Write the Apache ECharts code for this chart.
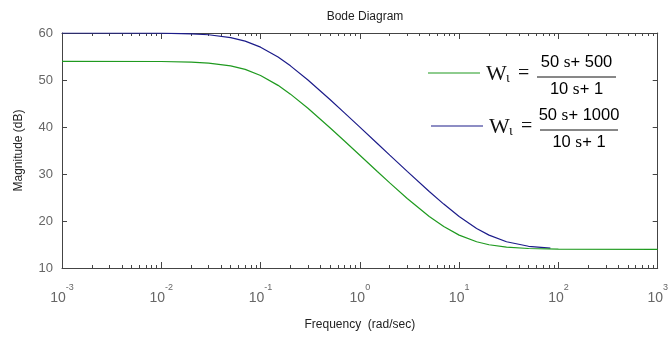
<!DOCTYPE html>
<html>
<head>
<meta charset="utf-8">
<script src="https://cdn.jsdelivr.net/npm/echarts@6/dist/echarts.min.js"></script>
<style>
  html, body { margin: 0; padding: 0; background: #fff; }
  #chart { width: 671px; height: 339px; }
</style>
</head>
<body>
<div id="chart"></div>
<script>
// frequencies (rad/sec) and magnitudes (dB)
const freqGreen = [0.001, 0.01, 0.02, 0.03, 0.05, 0.07, 0.1, 0.15, 0.2, 0.3, 0.5, 0.7, 1, 1.5, 2, 3, 5, 7, 10, 15, 20, 30, 50, 100, 1000];
const magGreen = [53.98, 53.94, 53.81, 53.6, 53.0, 52.25, 50.97, 48.86, 46.99, 43.98, 39.84, 37.01, 33.98, 30.54, 28.12, 24.8, 20.97, 18.81, 16.99, 15.58, 14.95, 14.44, 14.15, 14.02, 13.98];
const freqBlue = [0.001, 0.01, 0.02, 0.03, 0.05, 0.07, 0.1, 0.15, 0.2, 0.3, 0.5, 0.7, 1, 1.5, 2, 3, 5, 7, 10, 15, 20, 30, 50, 83];
const magBlue = [60.0, 59.96, 59.83, 59.63, 59.03, 58.27, 56.99, 54.88, 53.01, 50.0, 45.85, 43.01, 39.97, 36.48, 34.01, 30.55, 26.28, 23.6, 20.97, 18.42, 16.99, 15.58, 14.62, 14.24];
const decadeExps = [-3, -2, -1, 0, 1, 2, 3];
const yTicks = [10, 20, 30, 40, 50, 60];

const GREEN = '#1f9a1f';
const BLUE = '#1c1c8a';
const AXIS = '#444';

// minor log ticks (2..9 within each decade), in log10 units for a helper axis
let minorTicks = [];
for (let d = decadeExps[0]; d < decadeExps[decadeExps.length - 1]; d++) {
    for (let k = 2; k <= 9; k++) minorTicks.push(d + Math.log10(k));
}

function pairs(xs, ys) {
    let out = [];
    for (let i = 0; i < xs.length; i++) out.push([xs[i], ys[i]]);
    return out;
}

const myChart = echarts.init(document.getElementById('chart'));

const minorAxis = (pos) => ({
    type: 'value', position: pos, min: -3, max: 3,
    axisLine: { show: false },
    axisLabel: { show: false },
    splitLine: { show: false },
    axisTick: { show: true, inside: true, length: 3, customValues: minorTicks, lineStyle: { color: AXIS } }
});

const fracStyle = {
    n: { fontFamily: 'Liberation Sans', fontSize: 16.5, color: '#111' },
    i: { fontFamily: 'Liberation Serif', fontSize: 17.5, color: '#111' }
};

function legendEntry(y, color, num, den, fx1, fx2) {
    const cx = (fx1 + fx2) / 2;
    return [
        { type: 'line', shape: { x1: fx1 - 109, y1: y, x2: fx1 - 57, y2: y }, style: { stroke: color, lineWidth: 1.2 } },
        { type: 'text', x: fx1 - 51, y: y + 1, style: { text: 'W', font: '22px "Liberation Serif"', fill: '#111', verticalAlign: 'middle' } },
        { type: 'text', x: fx1 - 31, y: y + 5, style: { text: 'ι', font: '14px "Liberation Serif"', fill: '#111', verticalAlign: 'middle' } },
        { type: 'text', x: fx1 - 19, y: y + 1, style: { text: '=', font: '20px "Liberation Serif"', fill: '#111', verticalAlign: 'middle' } },
        { type: 'text', x: cx, y: y - 11, style: { text: num, rich: fracStyle, align: 'center', verticalAlign: 'middle' } },
        { type: 'line', shape: { x1: fx1, y1: y + 4, x2: fx2, y2: y + 4 }, style: { stroke: '#111', lineWidth: 1 } },
        { type: 'text', x: cx, y: y + 16, style: { text: den, rich: fracStyle, align: 'center', verticalAlign: 'middle' } }
    ];
}

const option = {
    animation: false,
    backgroundColor: '#fff',
    title: {
        text: 'Bode Diagram', left: 360, top: 6, textAlign: 'center',
        textStyle: { fontFamily: 'Liberation Sans', fontSize: 12, fontWeight: 'normal', color: '#222' }
    },
    grid: { left: 62, right: 8, top: 33, bottom: 71 },
    xAxis: [
        {
            type: 'log', logBase: 10, min: 0.001, max: 1000, position: 'bottom',
            name: 'Frequency  (rad/sec)', nameLocation: 'middle', nameGap: 51,
            nameTextStyle: { fontFamily: 'Liberation Sans', fontSize: 12, color: '#222' },
            axisLine: { onZero: false, lineStyle: { color: AXIS } },
            axisTick: { inside: true, length: 6, lineStyle: { color: AXIS } },
            splitLine: { show: false },
            axisLabel: {
                margin: 15,
                formatter: function (v) {
                    const e = Math.round(Math.log10(v));
                    return '{b|10}{s|' + e + '}';
                },
                rich: {
                    b: { fontFamily: 'Liberation Sans', fontSize: 14, color: '#666', padding: [8, 0, 0, 0] },
                    s: { fontFamily: 'Liberation Sans', fontSize: 9, color: '#666', verticalAlign: 'top', padding: [0, 0, 8, 0] }
                }
            }
        },
        {
            type: 'log', logBase: 10, min: 0.001, max: 1000, position: 'top',
            axisLine: { onZero: false, lineStyle: { color: AXIS } },
            axisTick: { inside: true, length: 6, lineStyle: { color: AXIS } },
            axisLabel: { show: false },
            splitLine: { show: false }
        },
        minorAxis('bottom'),
        minorAxis('top')
    ],
    yAxis: [
        {
            type: 'value', min: 10, max: 60, interval: 10, position: 'left',
            name: 'Magnitude (dB)', nameLocation: 'middle', nameGap: 37,
            nameTextStyle: { fontFamily: 'Liberation Sans', fontSize: 12, color: '#222' },
            axisLine: { show: true, onZero: false, lineStyle: { color: AXIS } },
            axisTick: { show: true, inside: true, length: 5, lineStyle: { color: AXIS } },
            axisLabel: { margin: 9, fontFamily: 'Liberation Sans', fontSize: 13, color: '#666',
                formatter: function (v) { return yTicks.indexOf(v) >= 0 ? String(v) : ''; } },
            splitLine: { show: false }
        },
        {
            type: 'value', min: 10, max: 60, interval: 10, position: 'right',
            axisLine: { show: true, onZero: false, lineStyle: { color: AXIS } },
            axisTick: { show: true, inside: true, length: 5, lineStyle: { color: AXIS } },
            axisLabel: { show: false },
            splitLine: { show: false }
        }
    ],
    series: [
        {
            name: 'W1 green', type: 'line', xAxisIndex: 0, yAxisIndex: 0,
            data: pairs(freqGreen, magGreen), showSymbol: false, smooth: false,
            lineStyle: { color: GREEN, width: 1.2 }, z: 3
        },
        {
            name: 'W1 blue', type: 'line', xAxisIndex: 0, yAxisIndex: 0,
            data: pairs(freqBlue, magBlue), showSymbol: false, smooth: false,
            lineStyle: { color: BLUE, width: 1.2 }, z: 2
        }
    ],
    graphic: [].concat(
        legendEntry(73, GREEN, '{n|50 }{i|s}{n|+ 500}', '{n|10 }{i|s}{n|+ 1}', 537, 616),
        legendEntry(126, BLUE, '{n|50 }{i|s}{n|+ 1000}', '{n|10 }{i|s}{n|+ 1}', 540, 618)
    )
};

myChart.setOption(option);
</script>
</body>
</html>
